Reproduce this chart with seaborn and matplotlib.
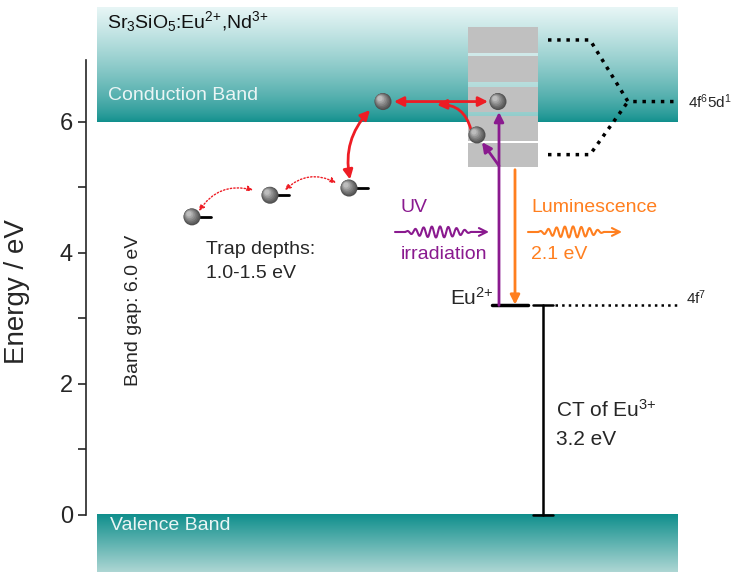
import numpy as np
import pandas as pd
import matplotlib
matplotlib.use("Agg")
import matplotlib.pyplot as plt
import seaborn as sns
from matplotlib.patches import Rectangle, FancyArrowPatch

sns.set_style("ticks")
plt.rcParams['font.family'] = ['Liberation Sans', 'DejaVu Sans']
plt.rcParams['mathtext.fontset'] = 'custom'
plt.rcParams['mathtext.rm'] = 'Liberation Sans'
plt.rcParams['mathtext.it'] = 'Liberation Sans:italic'
plt.rcParams['mathtext.default'] = 'regular'

# ---- data (energies in eV) ----
conduction_band_edge = 6.0
valence_band_edge = 0.0
eu2_level = 3.2
d_levels = [7.25, 6.31, 5.50]          # upper split, barycentre, lower split of 4f65d1
gray_levels_bottom = [7.05, 6.61, 6.15, 5.71, 5.31]
gray_levels_top = [7.45, 7.01, 6.53, 6.09, 5.68]
trap_x = [192, 270, 349]
trap_E = [4.55, 4.88, 4.99]
cb_electron_x = [383, 498, 477]
cb_electron_E = [6.31, 6.31, 5.80]
yticks_major = [0, 2, 4, 6]
yticks_minor = [1, 3, 5]

fig = plt.figure(figsize=(7.36, 5.72), dpi=100)
ax = fig.add_axes([86/736, 0, 1 - 86/736, 1])

# ---- bands with gradients ----
top_col = np.array([0.91, 0.965, 0.965])
teal = np.array([0.06, 0.56, 0.55])
t = np.linspace(0, 1, 256) ** 0.75
grad_cb = t[:, None, None] * (top_col - teal) + teal
ax.imshow(grad_cb[::-1], extent=[97, 678, conduction_band_edge, 7.74], aspect='auto', zorder=0, origin='upper')
vb_bot = np.array([0.68, 0.84, 0.83])
t2 = np.linspace(0, 1, 256)
grad_vb = t2[:, None, None] * (vb_bot - teal) + teal
ax.imshow(grad_vb, extent=[97, 678, -0.87, valence_band_edge], aspect='auto', zorder=0, origin='upper')
ax.set_xlim(86, 736)
ax.set_ylim(-0.87, 7.86)

ax.text(107, 7.53, r"Sr$_3$SiO$_5$:Eu$^{2{+}}$,Nd$^{3{+}}$", fontsize=14, va='center', ha='left', color='#111111')
ax.text(108, 6.40, "Conduction Band", fontsize=14, va='center', ha='left', color='#eaf5f5')
ax.text(110, -0.16, "Valence Band", fontsize=14, va='center', ha='left', color='#eaf5f5')

# ---- gray 4f65d1 boxes ----
for b, tp in zip(gray_levels_bottom, gray_levels_top):
    ax.add_patch(Rectangle((468, b), 70, tp - b, facecolor='#c0c0c0', edgecolor='none', zorder=1))
for b_hi, t_lo in zip(gray_levels_bottom[:-1], gray_levels_top[1:]):
    ax.add_patch(Rectangle((468, t_lo), 70, b_hi - t_lo, facecolor='white', alpha=0.5, edgecolor='none', zorder=1))

# dotted splitting lines
ax.plot([548, 590, 628, 678], [d_levels[0], d_levels[0], d_levels[1], d_levels[1]], ls=':', color='black', lw=2.5, zorder=2)
ax.plot([548, 590, 628], [d_levels[2], d_levels[2], d_levels[1]], ls=':', color='black', lw=2.5, zorder=2)
ax.text(688, d_levels[1], r"4f$^6$5d$^1$", fontsize=11, va='center', ha='left')

# Eu2+ level and CT
ax.plot([492, 528], [eu2_level, eu2_level], color='black', lw=2.5, zorder=3)
ax.plot([533, 553], [eu2_level, eu2_level], color='black', lw=1.8, zorder=3)
ax.plot([543, 543], [valence_band_edge, eu2_level], color='black', lw=1.8, zorder=3)
ax.plot([533, 553], [valence_band_edge, valence_band_edge], color='black', lw=1.8, zorder=3)
ax.plot([555, 678], [eu2_level, eu2_level], ls=':', color='black', lw=1.8, zorder=2)
ax.text(686, eu2_level + 0.12, r"4f$^7$", fontsize=11, va='center', ha='left')
ax.text(494, eu2_level + 0.12, r"Eu$^{2{+}}$", fontsize=15, va='center', ha='right')
ax.text(556, 1.60, r"CT of Eu$^{3{+}}$", fontsize=15, va='center', ha='left')
ax.text(556, 1.15, "3.2 eV", fontsize=15, va='center', ha='left')

purple = '#8a1a8f'
orange = '#ff7f1f'
red = '#ee1c24'

def arrow(p0, p1, color, style='-|>', rad=0.0, lw=2.0, ls='-', ms=14, z=4):
    a = FancyArrowPatch(p0, p1, arrowstyle=style, mutation_scale=ms, color=color, lw=lw,
                        linestyle=ls, connectionstyle=f"arc3,rad={rad}", zorder=z,
                        shrinkA=0, shrinkB=0)
    ax.add_patch(a)

# UV excitation and luminescence arrows
arrow((499, eu2_level), (499, 6.15), purple)
arrow((499, 5.33), (482, 5.69), purple)
arrow((515, 5.27), (515, eu2_level + 0.01), orange)

# red transfer arrows
arrow((394, 6.31), (488, 6.31), red, style='<|-|>')
arrow((370, 6.18), (350, 5.12), red, style='<|-|>', rad=0.25)
arrow((471, 5.88), (437, 6.26), red, style='-|>', rad=0.4)
arrow((199, 4.64), (253, 4.96), red, style='<|-|>', rad=-0.35, lw=1.0, ls=(0, (1, 1.5)), ms=8)
arrow((285, 4.96), (336, 5.07), red, style='<|-|>', rad=-0.35, lw=1.0, ls=(0, (1, 1.5)), ms=8)

# trap lines
for x, e in zip(trap_x, trap_E):
    ax.plot([x + 7, x + 19], [e, e], color='black', lw=2.0, zorder=3)

# electrons (shaded spheres)
electrons = pd.DataFrame({"x": trap_x + cb_electron_x, "E": trap_E + cb_electron_E})
sns.scatterplot(data=electrons, x="x", y="E", s=150, color='#505050', edgecolor='none', ax=ax, zorder=5, legend=False)
shades = ['#5e5e5e', '#6e6e6e', '#808080', '#939393', '#a8a8a8', '#bdbdbd']
sizes = [125, 100, 75, 50, 30, 14]
for k, (c, s) in enumerate(zip(shades, sizes)):
    off = 0.5 * (k + 1)
    ax.scatter(electrons["x"] - off, electrons["E"] + off / 65.5, s=s, color=c, edgecolor='none', zorder=6 + k)

# wavy arrows
def wavy(x0, x1, y, color):
    xs = np.linspace(x0 + 10, x1 - 18, 400)
    tt = (xs - xs[0]) / (xs[-1] - xs[0])
    amp = 0.085 * np.sin(np.pi * tt) ** 0.8
    ys = y + amp * np.sin(2 * np.pi * 8 * tt)
    ax.plot([x0, xs[0]], [y, y], color=color, lw=1.5, zorder=4)
    ax.plot(xs, ys, color=color, lw=1.5, zorder=4)
    arrow((xs[-1], y), (x1, y), color, style='->', lw=1.5, ms=14)

ax.text(401, 4.69, "UV", fontsize=14, color=purple, va='center', ha='left')
wavy(395, 489, 4.32, purple)
ax.text(401, 3.97, "irradiation", fontsize=14, color=purple, va='center', ha='left')
ax.text(531, 4.69, "Luminescence", fontsize=14, color=orange, va='center', ha='left')
wavy(528, 622, 4.32, orange)
ax.text(531, 3.97, "2.1 eV", fontsize=14, color=orange, va='center', ha='left')

ax.text(206, 4.05, "Trap depths:", fontsize=14, va='center', ha='left')
ax.text(206, 3.69, "1.0-1.5 eV", fontsize=14, va='center', ha='left')
ax.text(133, 3.13, "Band gap: 6.0 eV", fontsize=14, va='center', ha='center', rotation=90)

# axis styling
ax.set_yticks(yticks_major)
ax.set_yticks(yticks_minor, minor=True)
ax.set_xticks([])
ax.set_xlabel("")
ax.tick_params(axis='y', which='major', labelsize=17, length=6, width=1.2, direction='out')
ax.tick_params(axis='y', which='minor', length=6, width=1.2, direction='out')
sns.despine(ax=ax, bottom=True, right=True, top=True)
ax.spines['left'].set_bounds(0, 6.95)
ax.spines['left'].set_linewidth(1.2)
ax.set_ylabel("Energy / eV", fontsize=20)
ax.yaxis.set_label_coords(-0.086, 0.49)
ax.patch.set_alpha(0)

fig.savefig("out.png", dpi=100)
